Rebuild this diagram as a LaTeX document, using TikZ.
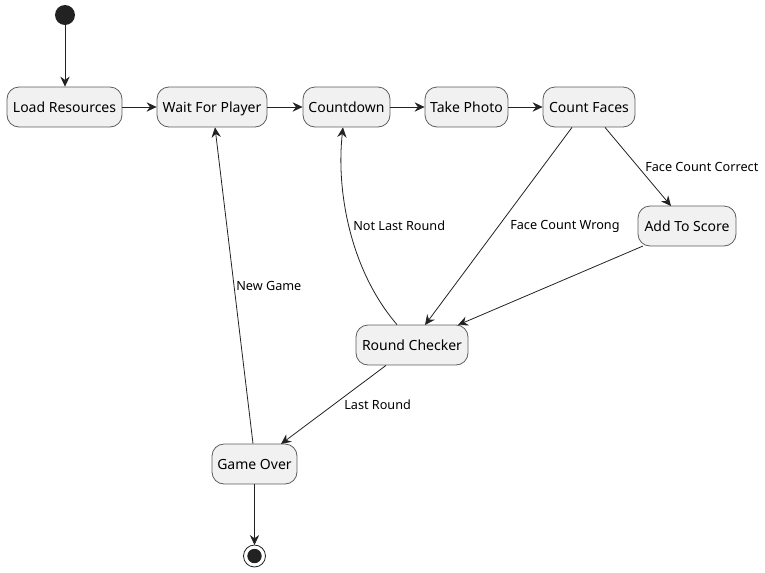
\documentclass[tikz,border=0pt]{standalone}
\usepackage{fontspec}
\setmainfont{Noto Sans}
\usetikzlibrary{arrows.meta}
\definecolor{nodefill}{HTML}{F1F1F1}
\definecolor{nodeline}{HTML}{181818}
\definecolor{ink}{HTML}{222222}
\begin{document}
\begin{tikzpicture}[x=0.75pt,y=-0.75pt,
  state/.style={draw=nodeline!70, fill=nodefill, rounded corners=9pt, line width=0.6pt,
    minimum height=30pt, inner xsep=0pt, text height=9pt, text depth=1.2pt,
    font=\fontsize{10.5}{12}\selectfont, text=black},
  lbl/.style={font=\fontsize{9.5}{11}\selectfont, anchor=west, inner sep=0pt, text=black},
  arr/.style={draw=ink, line width=0.6pt, -{Stealth[length=7.5pt,width=7pt,inset=2.5pt]}}]
\useasboundingbox (0,0) rectangle (765,572);
\fill[ink] (65,15) circle (7.5pt);
\coordinate (s) at (65,25);
\node[state, minimum width=86.25pt] (load) at (64.5,107) {Load Resources};
\node[state, minimum width=82.5pt] (wait) at (212,107) {Wait For Player};
\node[state, minimum width=65.25pt] (count) at (346.5,107) {Countdown};
\node[state, minimum width=62.25pt] (photo) at (466.5,107) {Take Photo};
\node[state, minimum width=69pt] (faces) at (589,107) {Count Faces};
\node[state, minimum width=73.5pt] (add) at (687,226) {Add To Score};
\node[state, minimum width=84pt] (round) at (412,345) {Round Checker};
\node[state, minimum width=63.75pt] (over) at (254.5,464) {Game Over};
\draw[ink, line width=0.6pt] (254.5,556) circle (8.25pt);
\fill[ink] (254.5,556) circle (5.4pt);
\coordinate (e) at (254.5,545);
\draw[arr] (s) -- (load.north -| s);
\draw[arr] (load) -- (wait);
\draw[arr] (wait) -- (count);
\draw[arr] (count) -- (photo);
\draw[arr] (photo) -- (faces);
\draw[arr] (faces.south -| 605,0) -- (671,206);
\draw[arr] (faces.south -| 572,0) -- (425,325);
\draw[arr] (643,246) -- (458,325);
\draw[arr] (round.north -| 397,0) .. controls (350,270) and (336,190) .. (count.south -| 343,0);
\draw[arr] (over.north -| 253,0) -- (wait.south -| 215,0);
\draw[arr] (round.south -| 386,0) -- (281,444);
\draw[arr] (over) -- (e);
\node[lbl] at (645,167) {Face Count Correct};
\node[lbl] at (510,226) {Face Count Wrong};
\node[lbl] at (353,226) {Not Last Round};
\node[lbl] at (236,286) {New Game};
\node[lbl] at (344,405) {Last Round};
\end{tikzpicture}
\end{document}
